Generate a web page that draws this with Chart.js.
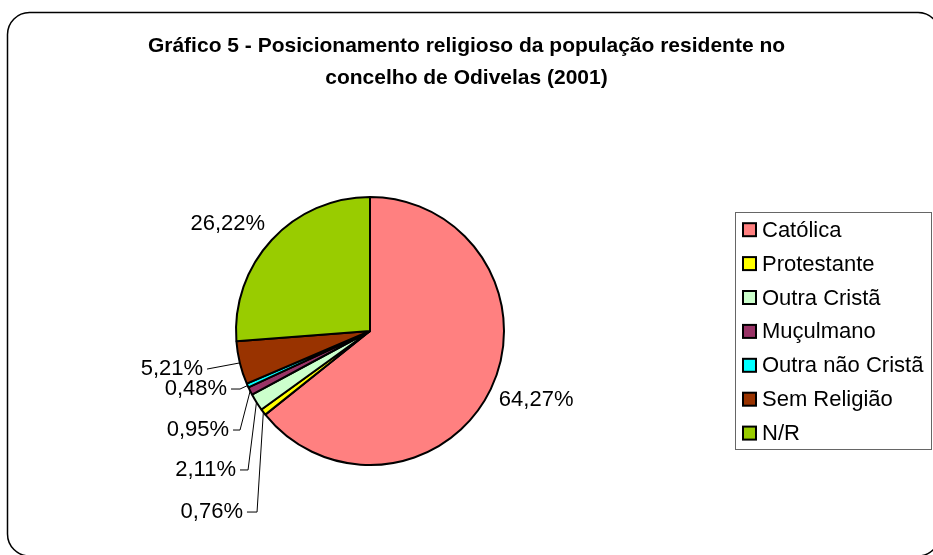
<!DOCTYPE html>
<html>
<head>
<meta charset="utf-8">
<script src="https://cdn.jsdelivr.net/npm/chart.js@4"></script>
<style>
  html, body { margin: 0; padding: 0; background: #fff; }
</style>
</head>
<body>
<canvas id="grafico" width="933" height="555"></canvas>
<script>
const categorias = ["Católica", "Protestante", "Outra Cristã", "Muçulmano", "Outra não Cristã", "Sem Religião", "N/R"];
const percentagens = [64.27, 0.76, 2.11, 0.95, 0.48, 5.21, 26.22];
const cores = ["#FF8080", "#FFFF00", "#CCFFCC", "#993366", "#00FFFF", "#993300", "#99CC00"];
const titulo = ["Gráfico 5 - Posicionamento religioso da população residente no", "concelho de Odivelas (2001)"];

const fonte = '"Liberation Sans", Arial, sans-serif';

const formatar = (v) => v.toFixed(2).replace(".", ",") + "%";

// rotulos das fatias pequenas, com linha de chamada (em raios a partir do centro)
const chamadas = {
  1: { x: -0.948, y: 1.351, cotovelo: -0.843 },
  2: { x: -1.0, y: 1.037, cotovelo: -0.91 },
  3: { x: -1.052, y: 0.739, cotovelo: -0.97 },
  4: { x: -1.067, y: 0.433, cotovelo: -0.97 },
  5: { x: -1.246, y: 0.284, cotovelo: null },
};

const caminhoArredondado = (ctx, x, y, w, h, r) => {
  ctx.beginPath();
  ctx.moveTo(x + r, y);
  ctx.arcTo(x + w, y, x + w, y + h, r);
  ctx.arcTo(x + w, y + h, x, y + h, r);
  ctx.arcTo(x, y + h, x, y, r);
  ctx.arcTo(x, y, x + w, y, r);
  ctx.closePath();
};

const moldura = {
  id: "moldura",
  beforeDraw(chart) {
    const ctx = chart.ctx;
    ctx.save();
    ctx.fillStyle = "#fff";
    ctx.fillRect(0, 0, chart.width, chart.height);
    ctx.strokeStyle = "#000";
    ctx.lineWidth = 1.5;
    caminhoArredondado(ctx, 7.5, 12.5, 932.5, 543.5, 22);
    ctx.stroke();

    ctx.fillStyle = "#000";
    ctx.font = `bold 21px ${fonte}`;
    ctx.textAlign = "center";
    ctx.textBaseline = "middle";
    titulo.forEach((linha, i) => {
      ctx.fillText(linha, chart.width / 2, 46 + i * 32);
    });
    ctx.restore();
  },
};

const rotulos = {
  id: "rotulos",
  afterDatasetsDraw(chart) {
    const ctx = chart.ctx;
    const arcos = chart.getDatasetMeta(0).data;
    ctx.save();
    ctx.font = `22px ${fonte}`;
    ctx.fillStyle = "#000";
    ctx.strokeStyle = "#000";
    ctx.lineWidth = 1;
    ctx.textBaseline = "middle";

    arcos.forEach((arco, i) => {
      const { x, y, startAngle, endAngle, outerRadius } = arco.getProps(["x", "y", "startAngle", "endAngle", "outerRadius"]);
      const r = outerRadius;
      const meio = (startAngle + endAngle) / 2;
      const texto = formatar(percentagens[i]);
      const c = chamadas[i];

      if (c) {
        const tx = x + c.x * r;
        const ty = y + c.y * r;
        const ax = x + Math.cos(meio) * r;
        const ay = y + Math.sin(meio) * r;
        ctx.beginPath();
        ctx.moveTo(tx + 4, ty);
        if (c.cotovelo !== null) {
          ctx.lineTo(x + c.cotovelo * r, ty);
        }
        ctx.lineTo(ax, ay);
        ctx.stroke();
        ctx.textAlign = "right";
        ctx.fillText(texto, tx, ty);
      } else {
        const d = r + 9;
        const cos = Math.cos(meio);
        const sin = Math.sin(meio);
        ctx.textAlign = cos >= 0 ? "left" : "right";
        ctx.fillText(texto, x + cos * d, y + sin * d + sin * 15);
      }
    });
    ctx.restore();
  },
};

const legenda = {
  id: "legenda",
  afterDraw(chart) {
    const ctx = chart.ctx;
    ctx.save();
    ctx.strokeStyle = "#666";
    ctx.lineWidth = 1;
    ctx.strokeRect(735.5, 212.5, 196, 237);

    ctx.font = `22px ${fonte}`;
    ctx.textAlign = "left";
    ctx.textBaseline = "middle";
    categorias.forEach((nome, i) => {
      const cy = 229.7 + i * 33.9;
      ctx.fillStyle = cores[i];
      ctx.fillRect(743, cy - 6.5, 13, 13);
      ctx.strokeStyle = "#000";
      ctx.lineWidth = 2;
      ctx.strokeRect(743, cy - 6.5, 13, 13);
      ctx.fillStyle = "#000";
      ctx.fillText(nome, 762, cy + 1);
    });
    ctx.restore();
  },
};

const grafico = new Chart(document.getElementById("grafico"), {
  type: "pie",
  data: {
    labels: categorias,
    datasets: [
      {
        data: percentagens,
        backgroundColor: cores,
        borderColor: "#000",
        borderWidth: 2,
        radius: 134,
      },
    ],
  },
  options: {
    responsive: false,
    devicePixelRatio: 1,
    animation: false,
    events: [],
    layout: {
      padding: { left: 230, right: 423, top: 191, bottom: 84 },
    },
    plugins: {
      legend: { display: false },
      title: { display: false },
      tooltip: { enabled: false },
    },
  },
  plugins: [moldura, rotulos, legenda],
});
</script>
</body>
</html>
